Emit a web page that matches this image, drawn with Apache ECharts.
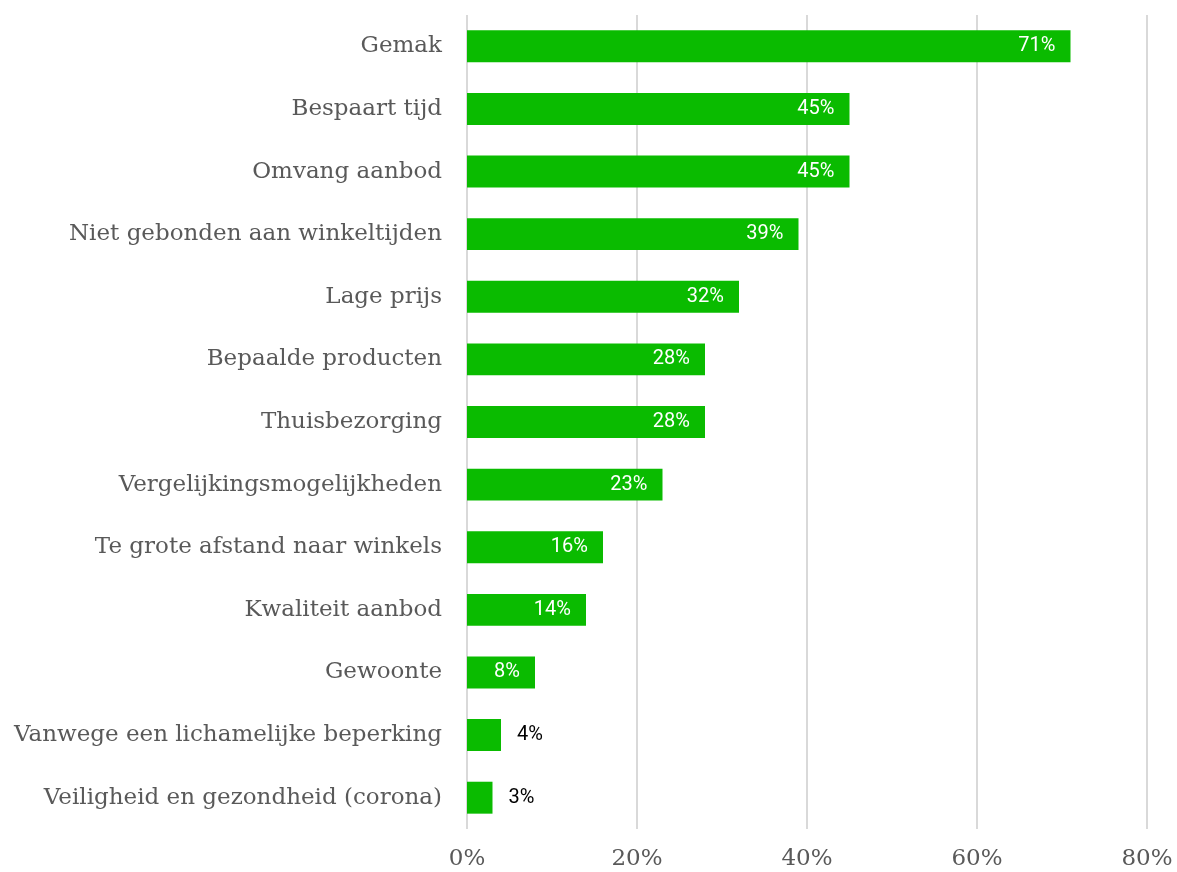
<!DOCTYPE html>
<html>
<head>
<meta charset="utf-8">
<script src="https://cdn.jsdelivr.net/npm/echarts@6/dist/echarts.min.js"></script>
<style>
  html, body { margin: 0; padding: 0; background: #ffffff; }
  #chart { width: 1177px; height: 872px; }
</style>
</head>
<body>
<div id="chart"></div>
<script>
// Redenen om online te kopen (% van respondenten)
const categories = [
  'Gemak',
  'Bespaart tijd',
  'Omvang aanbod',
  'Niet gebonden aan winkeltijden',
  'Lage prijs',
  'Bepaalde producten',
  'Thuisbezorging',
  'Vergelijkingsmogelijkheden',
  'Te grote afstand naar winkels',
  'Kwaliteit aanbod',
  'Gewoonte',
  'Vanwege een lichamelijke beperking',
  'Veiligheid en gezondheid (corona)'
];
const percentages = [71, 45, 45, 39, 32, 28, 28, 23, 16, 14, 8, 4, 3];
const axisTicks = [0, 20, 40, 60, 80];

// Short bars get their label outside in black, the rest inside in white
const insideThreshold = 8;

const barData = percentages.map(v => ({
  value: v,
  label: v >= insideThreshold
    ? { position: 'insideRight', distance: 15, color: '#ffffff' }
    : { position: 'right', distance: 16, color: '#000000' }
}));

const chart = echarts.init(document.getElementById('chart'), null, { renderer: 'canvas' });

chart.setOption({
  animation: false,
  backgroundColor: '#ffffff',
  grid: { left: 467, right: 30, top: 15, bottom: 43, containLabel: false },
  xAxis: {
    type: 'value',
    min: axisTicks[0],
    max: axisTicks[axisTicks.length - 1],
    interval: axisTicks[1] - axisTicks[0],
    axisLine: { show: false },
    axisTick: { show: false },
    splitLine: { show: true, lineStyle: { color: '#d9d9d9', width: 2 } },
    axisLabel: {
      formatter: v => v + '%',
      fontFamily: 'DejaVu Serif',
      fontSize: 23,
      color: '#595959',
      margin: 19
    }
  },
  yAxis: {
    type: 'category',
    data: categories,
    inverse: true,
    axisLine: { show: false },
    axisTick: { show: false },
    splitLine: { show: false },
    axisLabel: {
      fontFamily: 'DejaVu Serif',
      fontSize: 23,
      color: '#595959',
      margin: 25
    }
  },
  series: [{
    type: 'bar',
    data: barData,
    barCategoryGap: '49%',
    itemStyle: { color: '#0abb00' },
    z: 3,
    label: {
      show: true,
      formatter: p => p.value + '%',
      fontFamily: 'Roboto',
      fontSize: 20
    }
  }]
});
</script>
</body>
</html>
